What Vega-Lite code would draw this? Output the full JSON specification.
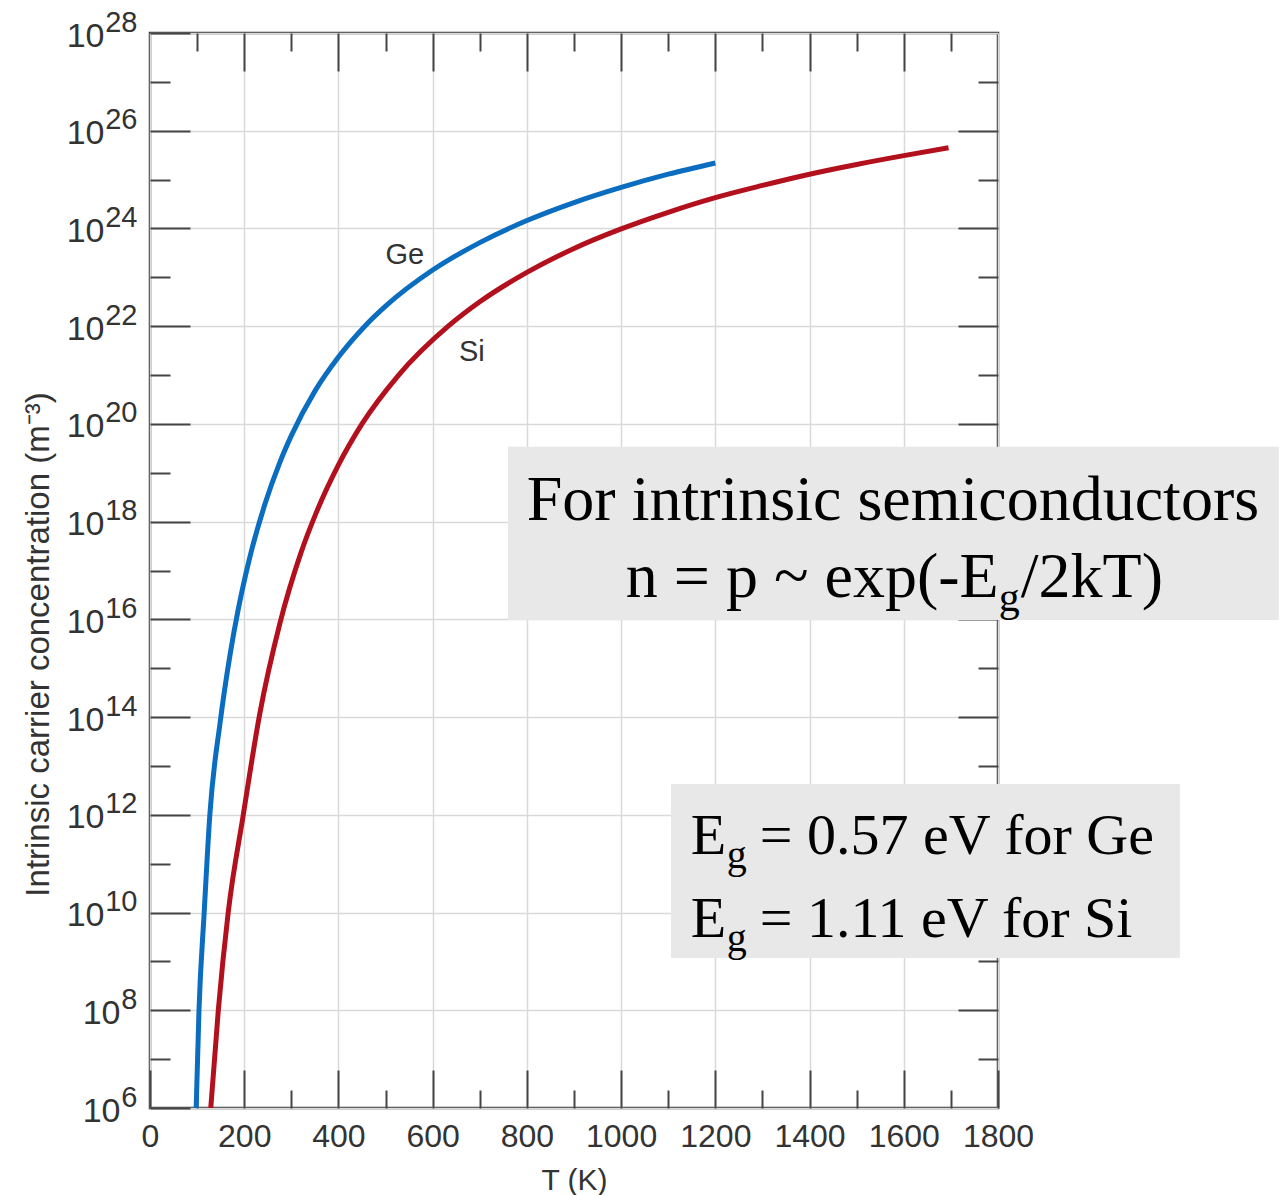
{
  "$schema": "https://vega.github.io/schema/vega-lite/v6.json",
  "width": 848,
  "height": 1075,
  "autosize": {"type": "none"},
  "padding": {"left": 150, "top": 33, "right": 286, "bottom": 87},
  "background": "white",
  "config": {
    "view": {"stroke": "#3a3a3a", "strokeWidth": 2.5},
    "font": "Liberation Sans"
  },
  "datasets": {
    "curves": [
      {"material": "Ge", "T": 98, "n": 1e6},
      {"material": "Ge", "T": 104, "n": 1e8},
      {"material": "Ge", "T": 115, "n": 1e10},
      {"material": "Ge", "T": 127, "n": 1e12},
      {"material": "Ge", "T": 149, "n": 7.94e13},
      {"material": "Ge", "T": 170, "n": 1.91e15},
      {"material": "Ge", "T": 187, "n": 1.55e16},
      {"material": "Ge", "T": 210, "n": 1.58e17},
      {"material": "Ge", "T": 244, "n": 2.29e18},
      {"material": "Ge", "T": 275, "n": 1.58e19},
      {"material": "Ge", "T": 300, "n": 5.75e19},
      {"material": "Ge", "T": 350, "n": 4.68e20},
      {"material": "Ge", "T": 400, "n": 2.34e21},
      {"material": "Ge", "T": 456, "n": 1e22},
      {"material": "Ge", "T": 500, "n": 2.57e22},
      {"material": "Ge", "T": 600, "n": 1.41e23},
      {"material": "Ge", "T": 700, "n": 5.13e23},
      {"material": "Ge", "T": 800, "n": 1.45e24},
      {"material": "Ge", "T": 900, "n": 3.39e24},
      {"material": "Ge", "T": 1000, "n": 6.92e24},
      {"material": "Ge", "T": 1100, "n": 1.29e25},
      {"material": "Ge", "T": 1200, "n": 2.19e25},
      {"material": "Si", "T": 129, "n": 1e6},
      {"material": "Si", "T": 145, "n": 1e8},
      {"material": "Si", "T": 166, "n": 1e10},
      {"material": "Si", "T": 198, "n": 1e12},
      {"material": "Si", "T": 233, "n": 1.17e14},
      {"material": "Si", "T": 276, "n": 8.51e15},
      {"material": "Si", "T": 320, "n": 2.24e17},
      {"material": "Si", "T": 354, "n": 1.62e18},
      {"material": "Si", "T": 400, "n": 1.45e19},
      {"material": "Si", "T": 450, "n": 1e20},
      {"material": "Si", "T": 526, "n": 9.55e20},
      {"material": "Si", "T": 633, "n": 1e22},
      {"material": "Si", "T": 700, "n": 3.16e22},
      {"material": "Si", "T": 800, "n": 1.26e23},
      {"material": "Si", "T": 900, "n": 3.89e23},
      {"material": "Si", "T": 1000, "n": 9.77e23},
      {"material": "Si", "T": 1100, "n": 2.14e24},
      {"material": "Si", "T": 1200, "n": 4.27e24},
      {"material": "Si", "T": 1300, "n": 7.59e24},
      {"material": "Si", "T": 1400, "n": 1.29e25},
      {"material": "Si", "T": 1500, "n": 2.04e25},
      {"material": "Si", "T": 1600, "n": 3.09e25},
      {"material": "Si", "T": 1695, "n": 4.47e25}
    ],
    "labels": [
      {"material": "Ge", "T": 541, "n": 2.9e23},
      {"material": "Si", "T": 683, "n": 2.95e21}
    ]
  },
  "resolve": {"axis": {"x": "independent", "y": "independent"}},
  "layer": [
    {
      "data": {"name": "curves"},
      "mark": {"type": "line", "strokeWidth": 5, "interpolate": "monotone", "clip": true},
      "encoding": {
        "x": {
          "field": "T",
          "type": "quantitative",
          "scale": {"domain": [0, 1800], "nice": false, "zero": false},
          "axis": {
            "orient": "bottom",
            "values": [0, 100, 200, 300, 400, 500, 600, 700, 800, 900, 1000, 1100, 1200, 1300, 1400, 1500, 1600, 1700, 1800],
            "format": "d",
            "labelExpr": "datum.value % 200 === 0 ? datum.label : ''",
            "domain": false,
            "tickSize": {"expr": "datum.value % 200 === 0 ? -38 : -18"},
            "tickWidth": 2,
            "tickColor": "#444",
            "grid": true,
            "gridColor": "#d9d9d9",
            "gridWidth": 1.5,
            "gridOpacity": {"expr": "datum.value % 200 === 0 ? 1 : 0"},
            "labelFontSize": 32,
            "labelColor": "#333",
            "labelPadding": 51,
            "labelFlush": false,
            "labelOverlap": false,
            "title": "T (K)",
            "titleFontSize": 30,
            "titleFontWeight": "normal",
            "titleColor": "#333",
            "titleY": 81,
            "titleBaseline": "alphabetic"
          }
        },
        "y": {
          "field": "n",
          "type": "quantitative",
          "scale": {"type": "log", "domain": [1e6, 1e28], "nice": false},
          "axis": {
            "orient": "left",
            "values": [1e6, 1e7, 1e8, 1e9, 1e10, 1e11, 1e12, 1e13, 1e14, 1e15, 1e16, 1e17, 1e18, 1e19, 1e20, 1e21, 1e22, 1e23, 1e24, 1e25, 1e26, 1e27, 1e28],
            "labelExpr": "round(log(datum.value)/LN10) % 2 === 0 ? '10' : ''",
            "domain": false,
            "tickSize": {"expr": "round(log(datum.value)/LN10) % 2 === 0 ? -40 : -20"},
            "tickWidth": 2,
            "tickColor": "#444",
            "grid": true,
            "gridColor": "#d9d9d9",
            "gridWidth": 1.5,
            "gridOpacity": {"expr": "round(log(datum.value)/LN10) % 2 === 0 ? 1 : 0"},
            "labelFontSize": 34,
            "labelColor": "#333",
            "labelAlign": "right",
            "labelOffset": 3,
            "labelPadding": {"expr": "round(log(datum.value)/LN10) < 10 ? 70 : 86"},
            "labelFlush": false,
            "labelOverlap": false,
            "title": "Intrinsic carrier concentration (m⁻³)",
            "titleFontSize": 33,
            "titleFontWeight": "normal",
            "titleColor": "#333",
            "titleX": -112,
            "titleY": 611,
            "titleBaseline": "middle"
          }
        },
        "color": {
          "field": "material",
          "type": "nominal",
          "scale": {"domain": ["Ge", "Si"], "range": ["#0b6dbf", "#b3101e"]},
          "legend": null
        }
      }
    },
    {
      "data": {"name": "labels"},
      "mark": {"type": "text", "fontSize": 29, "color": "#333", "baseline": "middle", "align": "center"},
      "encoding": {
        "x": {
          "field": "T",
          "type": "quantitative",
          "axis": {
            "orient": "top",
            "values": [100, 200, 300, 400, 500, 600, 700, 800, 900, 1000, 1100, 1200, 1300, 1400, 1500, 1600, 1700],
            "labels": false,
            "grid": false,
            "domain": false,
            "tickSize": {"expr": "datum.value % 200 === 0 ? -38 : -18"},
            "tickWidth": 2,
            "tickColor": "#444",
            "title": null
          }
        },
        "y": {
          "field": "n",
          "type": "quantitative",
          "axis": {
            "orient": "right",
            "values": [1e7, 1e8, 1e9, 1e10, 1e11, 1e12, 1e13, 1e14, 1e15, 1e16, 1e17, 1e18, 1e19, 1e20, 1e21, 1e22, 1e23, 1e24, 1e25, 1e26, 1e27],
            "labels": false,
            "grid": false,
            "domain": false,
            "tickSize": {"expr": "round(log(datum.value)/LN10) % 2 === 0 ? -40 : -20"},
            "tickWidth": 2,
            "tickColor": "#444",
            "title": null
          }
        },
        "text": {"field": "material"}
      }
    },
    {
      "data": {"values": [{}]},
      "mark": {"type": "rect", "color": "#e8e8e8"},
      "encoding": {
        "x": {"datum": 760, "type": "quantitative", "axis": null},
        "x2": {"datum": 2396},
        "y": {
          "datum": 3.4e19,
          "type": "quantitative",
          "axis": {
            "orient": "left",
            "values": [1e6, 1e8, 1e10, 1e12, 1e14, 1e16, 1e18, 1e20, 1e22, 1e24, 1e26, 1e28],
            "labelExpr": "format(round(log(datum.value)/LN10), 'd')",
            "ticks": false,
            "grid": false,
            "domain": false,
            "labelFontSize": 29,
            "labelColor": "#333",
            "labelAlign": "right",
            "labelBaseline": "middle",
            "labelPadding": 13,
            "labelOffset": -11,
            "labelFlush": false,
            "labelOverlap": false,
            "title": null
          }
        },
        "y2": {"datum": 9.7e15}
      }
    },
    {
      "data": {"values": [{}]},
      "mark": {"type": "rect", "color": "#e8e8e8"},
      "encoding": {
        "x": {"datum": 1106, "type": "quantitative", "axis": null},
        "x2": {"datum": 2186},
        "y": {"datum": 4.27e12, "type": "quantitative", "axis": null},
        "y2": {"datum": 1.17e9}
      }
    },
    {
      "data": {"values": [{}]},
      "mark": {"type": "text", "text": "For intrinsic semiconductors", "font": "Liberation Serif", "fontSize": 64, "color": "black", "align": "center", "baseline": "alphabetic"},
      "encoding": {
        "x": {"datum": 1577, "type": "quantitative", "axis": null},
        "y": {"datum": 1.08e18, "type": "quantitative", "axis": null}
      }
    },
    {
      "data": {"values": [{}]},
      "mark": {"type": "text", "text": "n = p ~ exp(-E", "font": "Liberation Serif", "fontSize": 64, "color": "black", "align": "left", "baseline": "alphabetic"},
      "encoding": {
        "x": {"datum": 1010, "type": "quantitative", "axis": null},
        "y": {"datum": 2.87e16, "type": "quantitative", "axis": null}
      }
    },
    {
      "data": {"values": [{}]},
      "mark": {"type": "text", "text": "g", "font": "Liberation Serif", "fontSize": 42, "color": "black", "align": "left", "baseline": "alphabetic", "dx": 373, "dy": 14},
      "encoding": {
        "x": {"datum": 1010, "type": "quantitative", "axis": null},
        "y": {"datum": 2.87e16, "type": "quantitative", "axis": null}
      }
    },
    {
      "data": {"values": [{}]},
      "mark": {"type": "text", "text": "/2kT)", "font": "Liberation Serif", "fontSize": 64, "color": "black", "align": "left", "baseline": "alphabetic", "dx": 395},
      "encoding": {
        "x": {"datum": 1010, "type": "quantitative", "axis": null},
        "y": {"datum": 2.87e16, "type": "quantitative", "axis": null}
      }
    },
    {
      "data": {"values": [{}]},
      "mark": {"type": "text", "text": ["E", "E"], "font": "Liberation Serif", "fontSize": 58, "lineHeight": 83, "color": "black", "align": "left", "baseline": "alphabetic"},
      "encoding": {
        "x": {"datum": 1148, "type": "quantitative", "axis": null},
        "y": {"datum": 1.58e11, "type": "quantitative", "axis": null}
      }
    },
    {
      "data": {"values": [{}]},
      "mark": {"type": "text", "text": ["g", "g"], "font": "Liberation Serif", "fontSize": 40, "lineHeight": 83, "color": "black", "align": "left", "baseline": "alphabetic", "dx": 36, "dy": 14},
      "encoding": {
        "x": {"datum": 1148, "type": "quantitative", "axis": null},
        "y": {"datum": 1.58e11, "type": "quantitative", "axis": null}
      }
    },
    {
      "data": {"values": [{}]},
      "mark": {"type": "text", "text": ["= 0.57 eV for Ge", "= 1.11 eV for Si"], "font": "Liberation Serif", "fontSize": 58, "lineHeight": 83, "color": "black", "align": "left", "baseline": "alphabetic", "dx": 69},
      "encoding": {
        "x": {"datum": 1148, "type": "quantitative", "axis": null},
        "y": {"datum": 1.58e11, "type": "quantitative", "axis": null}
      }
    }
  ]
}
